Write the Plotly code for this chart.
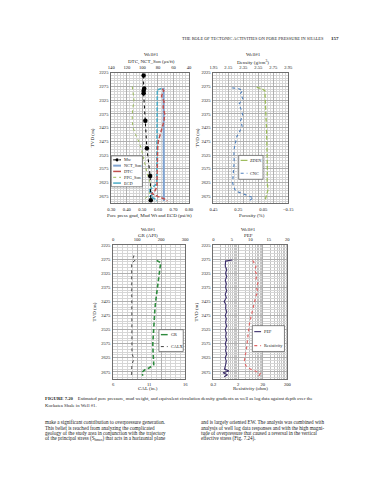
import plotly.graph_objects as go

W, H = 370, 480
FONT = "Liberation Serif"

# ---------------- data ----------------
# Panel 1 (top-left): pressure gradients (psi/ft) and sonic (us/ft)
mw_depth = [2235, 2282, 2291, 2300, 2400, 2500, 2601, 2689]
mw_grad = [0.508, 0.512, 0.508, 0.508, 0.519, 0.529, 0.550, 0.554]

nct_depth = [2280, 2692]
nct_son = [72.8, 72.4]

dtc_depth = [2283, 2290, 2310, 2330, 2350, 2375, 2400, 2425, 2450, 2475, 2500,
             2550, 2600, 2640, 2655, 2665, 2675, 2685, 2692]
dtc_son = [74.6, 72.5, 75.4, 72.1, 73.3, 71.3, 72.1, 74.6, 77.5, 79.6, 80.4,
           80.8, 81.3, 81.3, 83.8, 87.9, 80.4, 71.3, 68.0]

ppg_depth = [2275, 2300, 2325, 2350, 2375, 2400, 2425, 2450, 2475, 2500, 2525,
             2550, 2575, 2600, 2625, 2650, 2670, 2690]
ppg_son = [0.435, 0.440, 0.446, 0.440, 0.435, 0.435, 0.440, 0.456, 0.477, 0.492,
           0.502, 0.512, 0.523, 0.535, 0.550, 0.556, 0.540, 0.508]

ecd_depth = [2282, 2284, 2287, 2295, 2350, 2450, 2550, 2620, 2630, 2645, 2655,
             2665, 2675, 2685, 2692]
ecd_grad = [0.623, 0.600, 0.596, 0.596, 0.596, 0.596, 0.596, 0.596, 0.592, 0.560,
            0.540, 0.571, 0.550, 0.581, 0.592]

# Panel 2 (top-right): density (g/cm3) and porosity
zden_depth = [2278, 2283, 2290, 2325, 2375, 2425, 2475, 2525, 2575, 2625, 2650, 2675, 2692]
zden = [2.528, 2.593, 2.637, 2.646, 2.650, 2.659, 2.659, 2.667, 2.670, 2.667, 2.680, 2.650, 2.637]

cnc_depth = [2280, 2283, 2290, 2300, 2320, 2340, 2360, 2380, 2400, 2420, 2440, 2460,
             2480, 2500, 2525, 2550, 2575, 2600, 2625, 2640, 2655, 2665, 2672, 2680,
             2688, 2692]
cnc = [0.299, 0.246, 0.215, 0.233, 0.215, 0.246, 0.226, 0.215, 0.233, 0.220, 0.241,
       0.265, 0.273, 0.283, 0.286, 0.283, 0.288, 0.291, 0.296, 0.288, 0.273, 0.220,
       0.168, 0.129, 0.155, 0.142]

# Panel 3 (bottom-left): GR (API) and caliper (in.)
gr_depth = [2280, 2288, 2300, 2325, 2350, 2375, 2400, 2425, 2450, 2475, 2500, 2525,
            2550, 2575, 2600, 2625, 2650, 2660, 2668, 2678, 2688]
gr = [181, 199, 196, 192, 188, 182, 181, 177, 174, 172, 169, 166, 165, 165, 166, 168,
      169, 151, 131, 118, 124]

calx_depth = [2262, 2270, 2276, 2282, 2288, 2350, 2450, 2550, 2610, 2620, 2635, 2645, 2660, 2692]
calx = [8.88, 8.79, 9.11, 8.93, 8.57, 8.57, 8.57, 8.57, 8.61, 8.75, 8.79, 8.66, 8.57, 8.57]

# Panel 4 (bottom-right): PEF and resistivity (ohm)
pef_depth = [2278, 2282, 2300, 2312, 2325, 2337, 2350, 2362, 2375, 2387, 2400, 2412,
             2425, 2437, 2450, 2462, 2475, 2487, 2500, 2512, 2525, 2537, 2550, 2562,
             2575, 2587, 2600, 2612, 2625, 2637, 2650, 2665, 2672, 2678, 2685, 2692]
pef = [5.1, 3.3, 3.2, 3.6, 3.3, 3.6, 3.2, 3.5, 3.3, 3.6, 3.2, 3.5, 2.9, 3.4, 3.3,
       3.6, 3.2, 3.5, 3.3, 3.6, 3.2, 3.5, 3.3, 3.6, 3.2, 3.5, 3.3, 3.6, 3.2, 3.5,
       3.3, 3.0, 4.2, 2.6, 3.8, 2.9]

res_depth = [2280, 2290, 2300, 2315, 2330, 2345, 2360, 2375, 2390, 2405, 2425, 2450,
             2475, 2500, 2525, 2550, 2575, 2600, 2620, 2640, 2655, 2665, 2672, 2680,
             2688, 2692]
res = [7.85, 9.4, 10.7, 9.4, 11.7, 10.7, 12.8, 11.0, 12.8, 10.7, 9.4, 8.1, 6.9, 5.9,
       5.4, 5.1, 4.8, 4.3, 3.8, 3.6, 4.3, 6.3, 10.0, 15.9, 14.5, 18.4]

# tick labels
depth_ticks = [2225, 2275, 2325, 2375, 2425, 2475, 2525, 2575, 2625, 2675]
res_ticks = [0.2, 2, 20, 200]
res_tick_text = ["0.2", "2", "20", "200"]
res_minor = [0.4, 0.6, 0.8, 1.0, 1.2, 1.4, 1.6, 1.8,
             4, 6, 8, 10, 12, 14, 16, 18,
             40, 60, 80, 100, 120, 140, 160, 180]

# ---------------- helpers ----------------
def px(x):
    return x / W

def py(y):
    return 1 - y / H

fig = go.Figure()

GRID_MINOR = "#d6d6d6"
GRID_MAJOR = "#b0b0b0"
LINE_C = "#6e6e6e"
TICKF = dict(family=FONT, size=4.6, color="#222")

def minor_grid(**kw):
    d = dict(showgrid=True, gridcolor=GRID_MINOR, gridwidth=0.5)
    d.update(kw)
    return d

def yax(top, bottom):
    return dict(domain=[py(bottom), py(top)], range=[2700, 2225], autorange=False,
                tickvals=depth_ticks, ticks="", tickfont=TICKF,
                showgrid=True, gridcolor=GRID_MAJOR, gridwidth=0.6,
                minor=minor_grid(dtick=10, tick0=2225),
                showline=True, linecolor=LINE_C, linewidth=0.8, mirror=True,
                zeroline=False, ticklabelstandoff=1)

def xax_bottom(left, right, rng, anchor, **kw):
    d = dict(domain=[px(left), px(right)], range=rng, autorange=False, anchor=anchor,
             side="bottom", ticks="", tickfont=TICKF, showgrid=True,
             gridcolor=GRID_MAJOR, gridwidth=0.6, showline=True, linecolor=LINE_C,
             linewidth=0.8, zeroline=False, ticklabelstandoff=1)
    d.update(kw)
    return d

def xax_top(over, rng, anchor, **kw):
    d = dict(overlaying=over, range=rng, autorange=False, anchor=anchor, side="top",
             ticks="", tickfont=TICKF, showgrid=False, showline=True, linecolor=LINE_C,
             linewidth=0.8, zeroline=False, ticklabelstandoff=1)
    d.update(kw)
    return d

# ---------------- traces ----------------
# Panel 1
fig.add_trace(go.Scatter(x=ppg_son, y=ppg_depth, xaxis="x", yaxis="y", mode="lines",
                         name="PPG_Son", line=dict(color="#9bbb59", width=1, dash="dot")))
fig.add_trace(go.Scatter(x=nct_son, y=nct_depth, xaxis="x2", yaxis="y", mode="lines",
                         name="NCT_Son", line=dict(color="#7fa3d1", width=2)))
fig.add_trace(go.Scatter(x=ecd_grad, y=ecd_depth, xaxis="x", yaxis="y", mode="lines",
                         name="ECD", line=dict(color="#4bacc6", width=1.6, dash="4px,1.5px")))
fig.add_trace(go.Scatter(x=dtc_son, y=dtc_depth, xaxis="x2", yaxis="y", mode="lines",
                         name="DTC", line=dict(color="#c0504d", width=1.5, dash="4px,2px")))
fig.add_trace(go.Scatter(x=mw_grad, y=mw_depth, xaxis="x", yaxis="y", mode="lines+markers",
                         name="Mw", line=dict(color="#000", width=1, dash="dot"),
                         marker=dict(color="#000", size=4.5)))

# Panel 2
fig.add_trace(go.Scatter(x=zden, y=zden_depth, xaxis="x4", yaxis="y2", mode="lines",
                         name="ZDEN", line=dict(color="#9bbb59", width=1.3, dash="4px,2px")))
fig.add_trace(go.Scatter(x=cnc, y=cnc_depth, xaxis="x3", yaxis="y2", mode="lines",
                         name="CNC", line=dict(color="#4f81bd", width=1.1, dash="dot")))

# Panel 3
fig.add_trace(go.Scatter(x=calx, y=calx_depth, xaxis="x5", yaxis="y3", mode="lines",
                         name="CALX", line=dict(color="#444", width=1, dash="dot")))
fig.add_trace(go.Scatter(x=gr, y=gr_depth, xaxis="x6", yaxis="y3", mode="lines",
                         name="GR", line=dict(color="#2e8b3e", width=1.6, dash="4px,2.5px")))

# Panel 4
fig.add_trace(go.Scatter(x=res, y=res_depth, xaxis="x7", yaxis="y4", mode="lines",
                         name="Resistivity", line=dict(color="#e06666", width=1.2, dash="dot")))
fig.add_trace(go.Scatter(x=pef, y=pef_depth, xaxis="x8", yaxis="y4", mode="lines",
                         name="PEF", line=dict(color="#3b2d6b", width=1.1)))

# ---------------- axes ----------------
TOP_T, TOP_B = 63, 194
BOT_T, BOT_B = 236, 370.5

layout = dict(
    width=W, height=H, margin=dict(l=0, r=0, t=0, b=0),
    paper_bgcolor="white", plot_bgcolor="white", showlegend=False,
    font=dict(family=FONT, color="#222"),
    yaxis=yax(TOP_T, TOP_B),
    yaxis2=yax(TOP_T, TOP_B),
    yaxis3=yax(BOT_T, BOT_B),
    yaxis4=yax(BOT_T, BOT_B),
)
layout["yaxis"]["anchor"] = "x"
layout["yaxis2"]["anchor"] = "x3"
layout["yaxis3"]["anchor"] = "x5"
layout["yaxis4"]["anchor"] = "x7"

layout["xaxis"] = xax_bottom(102, 182, [0.3, 0.8], "y", dtick=0.1, tick0=0.3, tickformat=".2f",
                             minor=minor_grid(dtick=0.02, tick0=0.3))
layout["xaxis2"] = xax_top("x", [140, 40], "y", dtick=20, tick0=40)
layout["xaxis3"] = xax_bottom(207, 284, [0.45, -0.15], "y2", dtick=0.2, tick0=0.45,
                              tickformat=".2f", showgrid=False)
layout["xaxis4"] = xax_top("x3", [1.95, 2.95], "y2", dtick=0.2, tick0=1.95, tickformat=".2f",
                           showgrid=True, gridcolor=GRID_MAJOR, gridwidth=0.6,
                           minor=minor_grid(dtick=0.04, tick0=1.95))
layout["xaxis5"] = xax_bottom(104, 178, [6, 16], "y3", dtick=5, tick0=6, showgrid=False)
layout["xaxis6"] = xax_top("x5", [0, 300], "y3", dtick=100, tick0=0,
                           showgrid=True, gridcolor=GRID_MAJOR, gridwidth=0.6,
                           minor=minor_grid(dtick=20, tick0=0))
layout["xaxis7"] = xax_bottom(207, 283, [-0.69897, 2.30103], "y4", type="log",
                              tickvals=res_ticks, ticktext=res_tick_text,
                              minor=minor_grid(tickvals=res_minor, gridcolor="#c4c4c4"))
layout["xaxis8"] = xax_top("x7", [0, 20], "y4", dtick=5, tick0=0)

fig.update_layout(**layout)

# ---------------- text ----------------
def txt(x, y, s, size=5, xanchor="center", angle=0, bold=False, color="#222"):
    if bold:
        s = "<b>" + s + "</b>"
    fig.add_annotation(x=px(x), y=py(y), xref="paper", yref="paper", text=s,
                       showarrow=False, xanchor=xanchor, yanchor="middle",
                       textangle=angle, borderpad=0,
                       font=dict(family=FONT, size=size, color=color))

# page header
txt(322, 29, "THE ROLE OF TECTONIC ACTIVITIES ON PORE PRESSURE IN SHALES", size=4.4, xanchor="right")
txt(337, 29, "157", size=5, xanchor="right", bold=True)

# panel titles
txt(143, 45, "Well#1", 5)
txt(143, 52, "DTC, NCT_Son (\u03bcs/ft)", 5)
txt(141, 206.5, "Pore press grad, Mud Wt and ECD (psi/ft)", 5)
txt(83, 128, "TVD (m)", 5, angle=-90)

txt(248, 45, "Well#1", 5)
txt(248, 52, "Density (g/cm<sup>3</sup>)", 5)
txt(247, 206.5, "Porosity (%)", 5)
txt(191, 128, "TVD (m)", 5, angle=-90)

txt(140, 220.5, "Well#1", 5)
txt(140, 226.8, "GR (API)", 5)
txt(140, 380, "CAL (in.)", 5)
txt(85, 303, "TVD (m)", 5, angle=-90)

txt(243, 220.5, "Well#1", 5)
txt(243, 226.8, "PEF", 5)
txt(245, 380, "Resistivity (ohm)", 5)
txt(190, 303, "TVD (m)", 5, angle=-90)

# ---------------- legends (drawn as boxes with samples) ----------------
def legend_box(x0, y0, x1, y1):
    fig.add_shape(type="rect", xref="paper", yref="paper", x0=px(x0), x1=px(x1),
                  y0=py(y1), y1=py(y0), line=dict(color="#555", width=0.7), fillcolor="white",
                  layer="above")

def legend_item(x0, x1, y, label, color, width, dash, marker=False):
    fig.add_shape(type="line", xref="paper", yref="paper", x0=px(x0), x1=px(x1),
                  y0=py(y), y1=py(y), line=dict(color=color, width=width, dash=dash), layer="above")
    if marker:
        xm = (x0 + x1) / 2
        fig.add_shape(type="circle", xref="paper", yref="paper", x0=px(xm - 1.6), x1=px(xm + 1.6),
                      y0=py(y + 1.6), y1=py(y - 1.6), fillcolor=color, line=dict(width=0),
                      layer="above")
    txt(x1 + 2, y, label, 4.3, xanchor="left")

legend_box(102, 146.5, 134, 177.5)
legend_item(104, 112, 150.5, "Mw", "#000", 1, "dot", marker=True)
legend_item(104, 112, 156.3, "NCT_Son", "#7fa3d1", 2, "solid")
legend_item(104, 112, 162.1, "DTC", "#c0504d", 1.5, "dash")
legend_item(104, 112, 168.0, "PPG_Son", "#9bbb59", 1, "dot")
legend_item(104, 112, 173.8, "ECD", "#4bacc6", 1.5, "dash")

legend_box(233, 146, 258, 170)
legend_item(235, 242, 151, "ZDEN", "#9bbb59", 1.2, "dash")
legend_item(235, 242, 164, "CNC", "#4f81bd", 1.1, "dot")

legend_box(151, 321, 176, 343)
legend_item(153, 160, 326, "GR", "#2e8b3e", 1.4, "dash")
legend_item(153, 160, 338, "CALX", "#444", 1, "dot")

legend_box(247, 317, 280, 343)
legend_item(249, 256, 323, "PEF", "#3b2d6b", 1.1, "solid")
legend_item(249, 256, 337, "Resistivity", "#e06666", 1.1, "dot")

# ---------------- caption and body text ----------------
fig.add_annotation(x=px(33), y=py(391), xref="paper", yref="paper", showarrow=False,
                   xanchor="left", yanchor="middle", borderpad=0,
                   text="<b>FIGURE 7.20</b>\u2003Estimated pore pressure, mud weight, and equivalent circulation density gradients as well as log data against depth over the",
                   font=dict(family=FONT, size=4.75, color="#222"))
txt(33, 396.8, "Kockatea Shale in Well #1.", 4.75, xanchor="left")

left_lines = [
    "make a significant contribution to overpressure generation.",
    "This belief is reached from analyzing the complicated",
    "geology of the study area in conjunction with the trajectory",
    "of the principal stress (S<sub>hmax</sub>) that acts in a horizontal plane",
]
right_lines = [
    "and is largely oriented EW. The analysis was combined with",
    "analysis of well log data responses and with the high magni-",
    "tude of overpressure that caused a reversal in the vertical",
    "effective stress (Fig. 7.24).",
]
for i, s in enumerate(left_lines):
    txt(33, 413.7 + i * 5.55, s, 5.1, xanchor="left")
for i, s in enumerate(right_lines):
    txt(193, 413.7 + i * 5.55, s, 5.1, xanchor="left")

fig.write_html("out.html")
